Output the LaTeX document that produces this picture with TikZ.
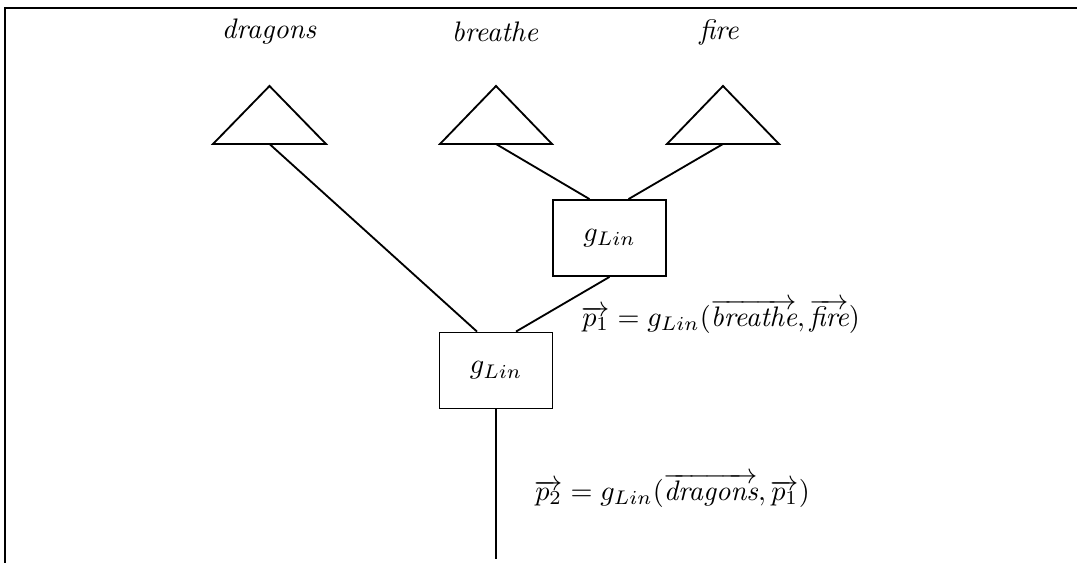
\documentclass[tikz,border=0pt]{standalone}
\usetikzlibrary{calc}
\begin{document}
\begin{tikzpicture}[x=0.354pt,y=-0.354pt,
  conn/.style={line width=0.65pt},
  tri/.style={line width=0.65pt},
  fbox/.style={draw,line width=0.65pt,minimum width=113*0.354pt,minimum height=76*0.354pt,inner sep=0pt},
  word/.style={inner sep=0pt,font=\itshape},
  formula/.style={inner sep=0pt,anchor=west}]
\useasboundingbox (0,0) rectangle (1077,563);
% frame
\draw[line width=0.9pt] (1077,8) -- (5,8) -- (5,563);
% words
\node[word] (w1) at (269,32) {dragons};
\node[word] (w2) at (495,32) {breathe};
\node[word] (w3) at (719,32) {fire};
% triangles (base centres named)
\coordinate (t1) at (269.5,144);
\coordinate (t2) at (496,144);
\coordinate (t3) at (723,144);
\draw[tri] (213,144) -- (269.5,86) -- (326,144) -- cycle;
\draw[tri] (440,144) -- (496,86) -- (552,144) -- cycle;
\draw[tri] (667,144) -- (723,86) -- (779,144) -- cycle;
% boxes
\node[fbox] (up) at (609.5,238) {$g_{Lin}$};
\node[fbox] (lo) at (496,370.5) {$g_{Lin}$};
\coordinate (root) at (496,559);
% connectors
\draw[conn] (t1) -- ([xshift=-19*0.354pt]lo.north);
\draw[conn] (t2) -- ([xshift=-20*0.354pt]up.north);
\draw[conn] (t3) -- ([xshift=19*0.354pt]up.north);
\draw[conn] (up.south) -- ([xshift=20*0.354pt]lo.north);
\draw[conn] (lo.south) -- (root);
% formulas
\node[formula] (f1) at (581,316) {$\overrightarrow{p_1} = g_{Lin}(\overrightarrow{\textit{breathe}}, \overrightarrow{\textit{fire}})$};
\node[formula] (f2) at (534,490) {$\overrightarrow{p_2} = g_{Lin}(\overrightarrow{\textit{dragons}}, \overrightarrow{p_1})$};
\end{tikzpicture}
\end{document}
